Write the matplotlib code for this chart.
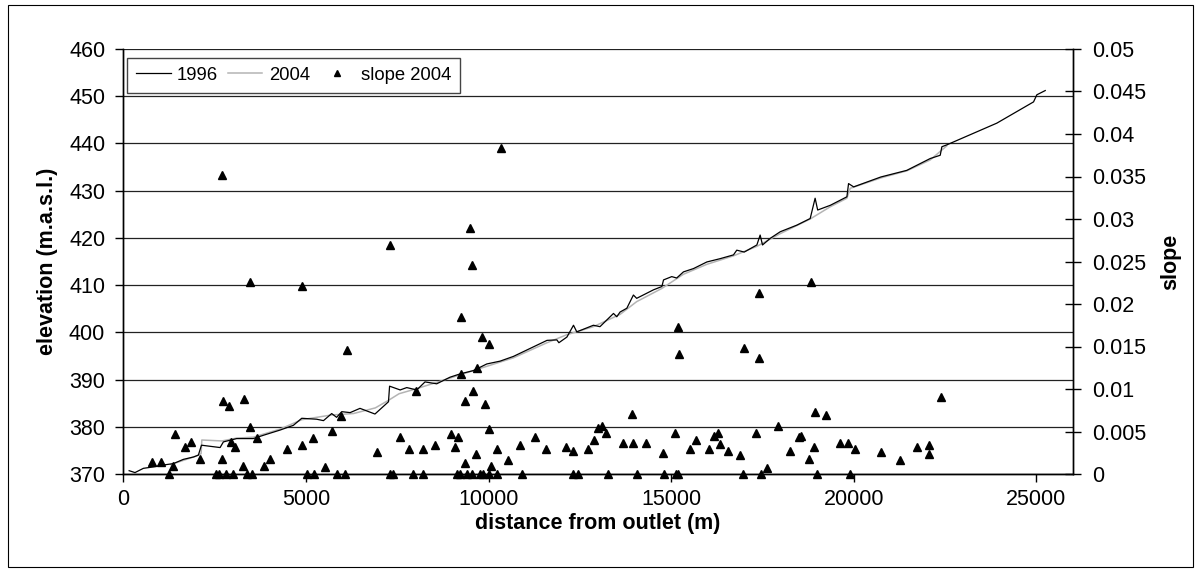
import matplotlib
matplotlib.use("Agg")
import matplotlib.pyplot as plt
from matplotlib.patches import Rectangle
from matplotlib.ticker import MultipleLocator, FuncFormatter

plt.rcParams['font.family'] = ['Liberation Sans', 'DejaVu Sans']

# ---- data ----
dist_1996 = [160, 320, 550, 820, 1095, 1370, 1645, 1920, 2055, 2140, 2650, 2740, 3105, 3560,
             3835, 4290, 4655, 4885, 5295, 5480, 5705, 5840, 5980, 6210, 6480, 6890, 7260,
             7290, 7580, 7760, 8035, 8260, 8580, 8945, 9220, 9585, 9950, 10315, 10680, 11600,
             11870, 11925, 12145, 12325, 12415, 12870, 13050, 13235, 13420, 13510, 13600,
             13785, 13965, 14055, 14515, 14745, 14790, 15015, 15150, 15335, 15610, 15975,
             16340, 16705, 16795, 17000, 17345, 17435, 17500, 17710, 17985, 18440, 18805,
             18940, 19010, 19355, 19810, 19855, 19995, 20740, 21450, 22090, 22365, 22410,
             22545, 23915, 24920, 25010, 25240]
elev_1996 = [370.7, 370.3, 371.2, 371.5, 371.9, 372.2, 373.1, 373.6, 374.0, 376.1, 375.6, 376.8,
             377.5, 377.5, 378.2, 379.3, 380.3, 381.8, 381.6, 381.3, 382.8, 382.0, 383.2, 383.0,
             383.9, 382.7, 385.3, 388.6, 387.8, 388.3, 387.8, 389.5, 389.1, 390.5, 391.2, 391.9,
             393.3, 393.9, 394.9, 398.3, 398.4, 397.8, 399.0, 401.5, 400.1, 401.5, 401.2, 402.6,
             404.0, 403.3, 404.3, 405.1, 407.9, 407.2, 409.0, 409.7, 411.1, 411.8, 411.5, 412.8,
             413.5, 414.9, 415.6, 416.4, 417.4, 417.0, 418.5, 420.6, 418.5, 419.9, 421.3, 422.7,
             424.1, 428.4, 425.9, 426.9, 428.7, 431.5, 430.8, 432.9, 434.3, 436.8, 437.5, 439.3,
             439.7, 444.3, 448.8, 450.3, 451.2]

dist_2004 = [1300, 1650, 2000, 2130, 2150, 2700, 3100, 3560, 4290, 4885, 5700, 6300, 6900, 7260,
             7550, 8000, 8580, 9220, 9950, 10680, 11600, 12145, 12870, 13600, 14055, 14745,
             15335, 15975, 16705, 17345, 17985, 18805, 19355, 19810, 19900, 20740, 21450,
             22090, 22545]
elev_2004 = [372.0, 372.9, 373.8, 374.3, 377.2, 377.0, 377.6, 377.8, 379.5, 381.5, 382.5, 382.8,
             384.0, 385.6, 387.0, 388.0, 389.4, 391.0, 392.8, 394.6, 397.8, 399.5, 401.2, 403.8,
             406.5, 409.3, 412.3, 414.4, 416.2, 418.2, 420.9, 424.0, 426.6, 428.4, 430.5, 432.7,
             434.2, 436.5, 439.5]

slope_dist = [2695, 3470, 4886, 6134, 7304, 9240, 9240, 9494, 9540, 9567, 9695, 9813, 10023, 10333,
              15198, 15216, 17002, 17417, 17417, 18831, 22388,
              8006, 2739, 2904, 3306, 9351, 9905, 5961, 3470, 10023, 5715, 1417, 7578, 5186, 8966,
              9157, 1855, 2950, 1699, 3060, 3652, 4886, 8546, 9093, 10242, 4474, 7833, 8198, 6957,
              9659, 2110, 2703, 4018, 786, 1042, 1361, 9351, 3279, 3853, 5515, 10069,
              13937, 18949, 19242, 13006, 13098, 13225, 15097, 17918, 17333, 11282, 15681, 16183,
              16293, 16339, 18509, 18547, 12897, 13691, 13966, 14303, 19624, 19834, 10863, 12113,
              18921, 11574, 12321, 12723, 15508, 16046, 16549, 20034, 14768, 16886, 18255, 10543,
              18785, 17618,
              20738, 21276, 21733, 22061, 22061,
              1244, 2539, 2612, 2813, 2996, 3396, 3525, 5022, 5223, 5851, 6080, 7302, 7377, 7924,
              8198, 9130, 9221, 9422, 9542, 9767, 9859, 10023, 10224, 10908, 12321, 12442, 13264,
              14057, 14805, 15134, 15197, 16968, 17461, 19003, 19907]
slope_val = [0.0352, 0.0226, 0.0221, 0.0146, 0.0269, 0.0185, 0.0118, 0.0290, 0.0246, 0.0098,
             0.0125, 0.0161, 0.0153, 0.0384,
             0.0173, 0.0141, 0.0148, 0.0213, 0.0137, 0.0226, 0.0091,
             0.0098, 0.0086, 0.0080, 0.0088, 0.0086, 0.0082, 0.0068, 0.0055, 0.0053, 0.0051,
             0.0047, 0.0043, 0.0042, 0.0047, 0.0043, 0.0038, 0.0038, 0.0032, 0.0032, 0.0042,
             0.0034, 0.0034, 0.0032, 0.0030, 0.0029, 0.0029, 0.0029, 0.0026, 0.0024, 0.0018,
             0.0018, 0.0018, 0.0014, 0.0014, 0.0009, 0.0013, 0.0009, 0.0009, 0.0008, 0.0009,
             0.0071, 0.0073, 0.0069, 0.0054, 0.0056, 0.0048, 0.0048, 0.0057, 0.0048, 0.0043,
             0.0040, 0.0045, 0.0048, 0.0035, 0.0043, 0.0045, 0.0040, 0.0037, 0.0037, 0.0037,
             0.0037, 0.0037, 0.0034, 0.0032, 0.0032, 0.0029, 0.0027, 0.0030, 0.0029, 0.0030,
             0.0027, 0.0030, 0.0025, 0.0022, 0.0027, 0.0016, 0.0018, 0.0007,
             0.0026, 0.0017, 0.0032, 0.0034, 0.0024,
             0, 0, 0, 0, 0, 0, 0, 0, 0, 0, 0, 0, 0, 0, 0, 0, 0, 0, 0, 0, 0, 0, 0, 0, 0, 0, 0,
             0, 0, 0, 0, 0, 0, 0, 0]

# ---- figure ----
W, H = 1199, 572
FS = 15.5
fig = plt.figure(figsize=(W / 100, H / 100), dpi=100)
fig.patches.append(Rectangle((8 / W, 1 - 567 / H), (1193 - 8) / W, (567 - 5) / H,
                             transform=fig.transFigure, fill=False, edgecolor='black',
                             linewidth=0.8))

ax = fig.add_axes([123.3 / W, 1 - 474 / H, (1073 - 123.3) / W, (474 - 49) / H])
ax2 = ax.twinx()

ax.plot(dist_2004, elev_2004, color='#b4b4b4', lw=1.1, label='2004', zorder=2)
ax.plot(dist_1996, elev_1996, color='black', lw=0.9, label='1996', zorder=3)
ax2.plot(slope_dist, slope_val, linestyle='none', marker='^', color='black', ms=5.5,
         label='slope 2004', clip_on=False)

ax.set_xlim(0, 26000)
ax.set_ylim(370, 460)
ax2.set_ylim(0, 0.05)

ax.xaxis.set_major_locator(MultipleLocator(5000))
ax.yaxis.set_major_locator(MultipleLocator(10))
ax2.yaxis.set_major_locator(MultipleLocator(0.005))
ax2.yaxis.set_major_formatter(FuncFormatter(lambda v, p: '%g' % round(v, 4)))

ax.set_axisbelow(True)
ax.grid(axis='y', color='#222222', lw=0.9)

for a in (ax, ax2):
    for s in a.spines.values():
        s.set_linewidth(1.0)
        s.set_color('black')
ax.spines['top'].set_visible(False)
ax2.spines['top'].set_visible(False)

ax.tick_params(axis='x', direction='out', length=6, width=1, labelsize=FS, pad=5)
ax.tick_params(axis='y', direction='out', length=6, width=1, labelsize=FS, pad=7)
ax2.tick_params(axis='y', direction='inout', length=11, width=1, labelsize=FS, pad=8)

ax.set_xlabel('distance from outlet (m)', fontsize=FS, fontweight='bold', labelpad=2)
ax.set_ylabel('elevation (m.a.s.l.)', fontsize=FS, fontweight='bold', labelpad=8)
ax2.set_ylabel('slope', fontsize=FS, fontweight='bold', labelpad=10)

h1, l1 = ax.get_legend_handles_labels()
h2, l2 = ax2.get_legend_handles_labels()
order = [1, 0]
handles = [h1[i] for i in order] + h2
labels = [l1[i] for i in order] + l2
leg = ax2.legend(handles, labels, loc='upper left', bbox_to_anchor=(0.004, 0.98),
                 borderaxespad=0, ncol=3, fontsize=13.3, frameon=True, fancybox=False,
                 edgecolor='#444444', framealpha=1, handlelength=1.85, handletextpad=0.35,
                 columnspacing=0.55, borderpad=0.5, markerscale=0.7)
leg.get_frame().set_linewidth(1.0)

fig.savefig('out.png', dpi=100)
